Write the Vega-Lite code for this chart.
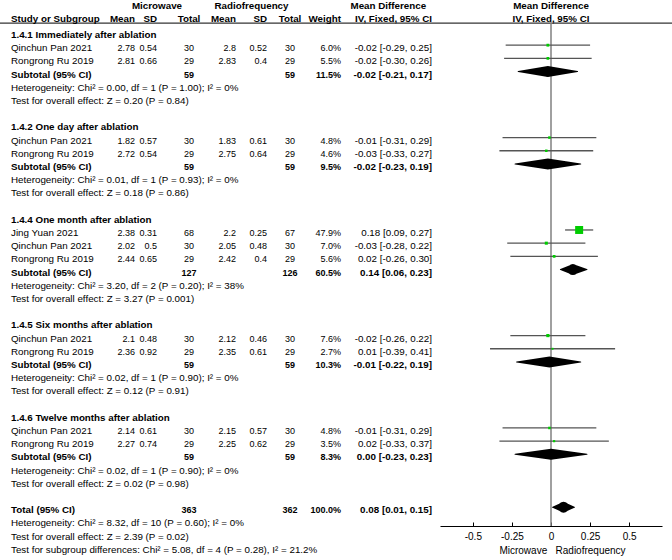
{
  "$schema": "https://vega.github.io/schema/vega-lite/v6.json",
  "width": 672,
  "height": 526,
  "autosize": {"type": "none"},
  "padding": {"left": 0, "top": 0, "right": 0, "bottom": 34},
  "background": "white",
  "config": {
    "view": {"stroke": null},
    "font": "Liberation Sans",
    "text": {"font": "Liberation Sans", "fontSize": 9.8, "color": "#000000", "baseline": "middle"}
  },
  "data": {
    "values": [
      {"row": -2, "kind": "header", "grpA": "Microwave", "grpB": "Radiofrequency", "grpC": "Mean Difference", "plotHead": "Mean Difference"},
      {"row": -1, "kind": "header", "label": "Study or Subgroup", "m1": "Mean", "sd1": "SD", "n1": "Total", "m2": "Mean", "sd2": "SD", "n2": "Total", "w": "Weight", "ci": "IV, Fixed, 95% CI", "plotHead": "IV, Fixed, 95% CI"},
      {"row": 0, "kind": "section", "label": "1.4.1 Immediately after ablation"},
      {"row": 1, "kind": "study", "label": "Qinchun Pan 2021", "m1": 2.78, "sd1": 0.54, "n1": 30, "m2": 2.8, "sd2": 0.52, "n2": 30, "w": "6.0%", "ci": "-0.02 [-0.29, 0.25]", "md": -0.02, "lo": -0.29, "hi": 0.25, "weight": 6.0},
      {"row": 2, "kind": "study", "label": "Rongrong Ru 2019", "m1": 2.81, "sd1": 0.66, "n1": 29, "m2": 2.83, "sd2": 0.4, "n2": 29, "w": "5.5%", "ci": "-0.02 [-0.30, 0.26]", "md": -0.02, "lo": -0.30, "hi": 0.26, "weight": 5.5},
      {"row": 3, "kind": "subtotal", "label": "Subtotal (95% CI)", "n1": 59, "n2": 59, "w": "11.5%", "ci": "-0.02 [-0.21, 0.17]", "md": -0.02, "lo": -0.21, "hi": 0.17},
      {"row": 4, "kind": "note", "label": "Heterogeneity: Chi² = 0.00, df = 1 (P = 1.00); I² = 0%"},
      {"row": 5, "kind": "note", "label": "Test for overall effect: Z = 0.20 (P = 0.84)"},
      {"row": 7, "kind": "section", "label": "1.4.2 One day after ablation"},
      {"row": 8, "kind": "study", "label": "Qinchun Pan 2021", "m1": 1.82, "sd1": 0.57, "n1": 30, "m2": 1.83, "sd2": 0.61, "n2": 30, "w": "4.8%", "ci": "-0.01 [-0.31, 0.29]", "md": -0.01, "lo": -0.31, "hi": 0.29, "weight": 4.8},
      {"row": 9, "kind": "study", "label": "Rongrong Ru 2019", "m1": 2.72, "sd1": 0.54, "n1": 29, "m2": 2.75, "sd2": 0.64, "n2": 29, "w": "4.6%", "ci": "-0.03 [-0.33, 0.27]", "md": -0.03, "lo": -0.33, "hi": 0.27, "weight": 4.6},
      {"row": 10, "kind": "subtotal", "label": "Subtotal (95% CI)", "n1": 59, "n2": 59, "w": "9.5%", "ci": "-0.02 [-0.23, 0.19]", "md": -0.02, "lo": -0.23, "hi": 0.19},
      {"row": 11, "kind": "note", "label": "Heterogeneity: Chi² = 0.01, df = 1 (P = 0.93); I² = 0%"},
      {"row": 12, "kind": "note", "label": "Test for overall effect: Z = 0.18 (P = 0.86)"},
      {"row": 14, "kind": "section", "label": "1.4.4 One month after ablation"},
      {"row": 15, "kind": "study", "label": "Jing Yuan 2021", "m1": 2.38, "sd1": 0.31, "n1": 68, "m2": 2.2, "sd2": 0.25, "n2": 67, "w": "47.9%", "ci": "0.18 [0.09, 0.27]", "md": 0.18, "lo": 0.09, "hi": 0.27, "weight": 47.9},
      {"row": 16, "kind": "study", "label": "Qinchun Pan 2021", "m1": 2.02, "sd1": 0.5, "n1": 30, "m2": 2.05, "sd2": 0.48, "n2": 30, "w": "7.0%", "ci": "-0.03 [-0.28, 0.22]", "md": -0.03, "lo": -0.28, "hi": 0.22, "weight": 7.0},
      {"row": 17, "kind": "study", "label": "Rongrong Ru 2019", "m1": 2.44, "sd1": 0.65, "n1": 29, "m2": 2.42, "sd2": 0.4, "n2": 29, "w": "5.6%", "ci": "0.02 [-0.26, 0.30]", "md": 0.02, "lo": -0.26, "hi": 0.30, "weight": 5.6},
      {"row": 18, "kind": "subtotal", "label": "Subtotal (95% CI)", "n1": 127, "n2": 126, "w": "60.5%", "ci": "0.14 [0.06, 0.23]", "md": 0.14, "lo": 0.06, "hi": 0.23},
      {"row": 19, "kind": "note", "label": "Heterogeneity: Chi² = 3.20, df = 2 (P = 0.20); I² = 38%"},
      {"row": 20, "kind": "note", "label": "Test for overall effect: Z = 3.27 (P = 0.001)"},
      {"row": 22, "kind": "section", "label": "1.4.5 Six months after ablation"},
      {"row": 23, "kind": "study", "label": "Qinchun Pan 2021", "m1": 2.1, "sd1": 0.48, "n1": 30, "m2": 2.12, "sd2": 0.46, "n2": 30, "w": "7.6%", "ci": "-0.02 [-0.26, 0.22]", "md": -0.02, "lo": -0.26, "hi": 0.22, "weight": 7.6},
      {"row": 24, "kind": "study", "label": "Rongrong Ru 2019", "m1": 2.36, "sd1": 0.92, "n1": 29, "m2": 2.35, "sd2": 0.61, "n2": 29, "w": "2.7%", "ci": "0.01 [-0.39, 0.41]", "md": 0.01, "lo": -0.39, "hi": 0.41, "weight": 2.7},
      {"row": 25, "kind": "subtotal", "label": "Subtotal (95% CI)", "n1": 59, "n2": 59, "w": "10.3%", "ci": "-0.01 [-0.22, 0.19]", "md": -0.01, "lo": -0.22, "hi": 0.19},
      {"row": 26, "kind": "note", "label": "Heterogeneity: Chi² = 0.02, df = 1 (P = 0.90); I² = 0%"},
      {"row": 27, "kind": "note", "label": "Test for overall effect: Z = 0.12 (P = 0.91)"},
      {"row": 29, "kind": "section", "label": "1.4.6 Twelve months after ablation"},
      {"row": 30, "kind": "study", "label": "Qinchun Pan 2021", "m1": 2.14, "sd1": 0.61, "n1": 30, "m2": 2.15, "sd2": 0.57, "n2": 30, "w": "4.8%", "ci": "-0.01 [-0.31, 0.29]", "md": -0.01, "lo": -0.31, "hi": 0.29, "weight": 4.8},
      {"row": 31, "kind": "study", "label": "Rongrong Ru 2019", "m1": 2.27, "sd1": 0.74, "n1": 29, "m2": 2.25, "sd2": 0.62, "n2": 29, "w": "3.5%", "ci": "0.02 [-0.33, 0.37]", "md": 0.02, "lo": -0.33, "hi": 0.37, "weight": 3.5},
      {"row": 32, "kind": "subtotal", "label": "Subtotal (95% CI)", "n1": 59, "n2": 59, "w": "8.3%", "ci": "0.00 [-0.23, 0.23]", "md": 0.0, "lo": -0.23, "hi": 0.23},
      {"row": 33, "kind": "note", "label": "Heterogeneity: Chi² = 0.02, df = 1 (P = 0.90); I² = 0%"},
      {"row": 34, "kind": "note", "label": "Test for overall effect: Z = 0.02 (P = 0.98)"},
      {"row": 36, "kind": "total", "label": "Total (95% CI)", "n1": 363, "n2": 362, "w": "100.0%", "ci": "0.08 [0.01, 0.15]", "md": 0.08, "lo": 0.01, "hi": 0.15},
      {"row": 37, "kind": "note", "label": "Heterogeneity: Chi² = 8.32, df = 10 (P = 0.60); I² = 0%"},
      {"row": 38, "kind": "note", "label": "Test for overall effect: Z = 2.39 (P = 0.02)"},
      {"row": 39, "kind": "note", "label": "Test for subgroup differences: Chi² = 5.08, df = 4 (P = 0.28), I² = 21.2%"}
    ]
  },
  "encoding": {
    "y": {"field": "row", "type": "quantitative", "scale": {"domain": [-2.65, 37.2], "reverse": true, "nice": false, "zero": false}, "axis": null}
  },
  "layer": [
    {
      "layer": [
        {"transform": [{"filter": "isValid(datum.label)"}], "mark": {"type": "text", "align": "left", "fontWeight": {"expr": "datum.kind === 'study' || datum.kind === 'note' ? 'normal' : 'bold'"}, "dy": {"expr": "datum.kind === 'header' ? -2.5 : 0"}},
         "encoding": {"x": {"datum": 0, "type": "quantitative", "scale": {"type": "linear", "domain": [0, 1, 2, 3, 4, 5, 6, 7, 8], "range": [11, 135, 157, 189, 236, 267, 290, 341, 432], "nice": false, "zero": false}, "axis": null}, "text": {"field": "label", "type": "nominal"}}},
        {"transform": [{"filter": "isValid(datum.m1)"}], "mark": {"type": "text", "align": "right", "fontSize": {"expr": "datum.kind === 'header' ? 9.8 : 9"}, "fontWeight": {"expr": "datum.kind === 'study' || datum.kind === 'note' ? 'normal' : 'bold'"}, "dy": {"expr": "datum.kind === 'header' ? -2.5 : 0"}},
         "encoding": {"x": {"datum": 1, "type": "quantitative", "scale": {"type": "linear", "domain": [0, 1, 2, 3, 4, 5, 6, 7, 8], "range": [11, 135, 157, 189, 236, 267, 290, 341, 432], "nice": false, "zero": false}, "axis": null}, "text": {"field": "m1", "type": "nominal"}}},
        {"transform": [{"filter": "isValid(datum.sd1)"}], "mark": {"type": "text", "align": "right", "fontSize": {"expr": "datum.kind === 'header' ? 9.8 : 9"}, "fontWeight": {"expr": "datum.kind === 'study' || datum.kind === 'note' ? 'normal' : 'bold'"}, "dy": {"expr": "datum.kind === 'header' ? -2.5 : 0"}},
         "encoding": {"x": {"datum": 2, "type": "quantitative", "scale": {"type": "linear", "domain": [0, 1, 2, 3, 4, 5, 6, 7, 8], "range": [11, 135, 157, 189, 236, 267, 290, 341, 432], "nice": false, "zero": false}, "axis": null}, "text": {"field": "sd1", "type": "nominal"}}},
        {"transform": [{"filter": "isValid(datum.n1)"}], "mark": {"type": "text", "align": "center", "fontSize": {"expr": "datum.kind === 'header' ? 9.8 : 9"}, "fontWeight": {"expr": "datum.kind === 'study' || datum.kind === 'note' ? 'normal' : 'bold'"}, "dy": {"expr": "datum.kind === 'header' ? -2.5 : 0"}},
         "encoding": {"x": {"datum": 3, "type": "quantitative", "scale": {"type": "linear", "domain": [0, 1, 2, 3, 4, 5, 6, 7, 8], "range": [11, 135, 157, 189, 236, 267, 290, 341, 432], "nice": false, "zero": false}, "axis": null}, "text": {"field": "n1", "type": "nominal"}}},
        {"transform": [{"filter": "isValid(datum.m2)"}], "mark": {"type": "text", "align": "right", "fontSize": {"expr": "datum.kind === 'header' ? 9.8 : 9"}, "fontWeight": {"expr": "datum.kind === 'study' || datum.kind === 'note' ? 'normal' : 'bold'"}, "dy": {"expr": "datum.kind === 'header' ? -2.5 : 0"}},
         "encoding": {"x": {"datum": 4, "type": "quantitative", "scale": {"type": "linear", "domain": [0, 1, 2, 3, 4, 5, 6, 7, 8], "range": [11, 135, 157, 189, 236, 267, 290, 341, 432], "nice": false, "zero": false}, "axis": null}, "text": {"field": "m2", "type": "nominal"}}},
        {"transform": [{"filter": "isValid(datum.sd2)"}], "mark": {"type": "text", "align": "right", "fontSize": {"expr": "datum.kind === 'header' ? 9.8 : 9"}, "fontWeight": {"expr": "datum.kind === 'study' || datum.kind === 'note' ? 'normal' : 'bold'"}, "dy": {"expr": "datum.kind === 'header' ? -2.5 : 0"}},
         "encoding": {"x": {"datum": 5, "type": "quantitative", "scale": {"type": "linear", "domain": [0, 1, 2, 3, 4, 5, 6, 7, 8], "range": [11, 135, 157, 189, 236, 267, 290, 341, 432], "nice": false, "zero": false}, "axis": null}, "text": {"field": "sd2", "type": "nominal"}}},
        {"transform": [{"filter": "isValid(datum.n2)"}], "mark": {"type": "text", "align": "center", "fontSize": {"expr": "datum.kind === 'header' ? 9.8 : 9"}, "fontWeight": {"expr": "datum.kind === 'study' || datum.kind === 'note' ? 'normal' : 'bold'"}, "dy": {"expr": "datum.kind === 'header' ? -2.5 : 0"}},
         "encoding": {"x": {"datum": 6, "type": "quantitative", "scale": {"type": "linear", "domain": [0, 1, 2, 3, 4, 5, 6, 7, 8], "range": [11, 135, 157, 189, 236, 267, 290, 341, 432], "nice": false, "zero": false}, "axis": null}, "text": {"field": "n2", "type": "nominal"}}},
        {"transform": [{"filter": "isValid(datum.w)"}], "mark": {"type": "text", "align": "right", "fontSize": {"expr": "datum.kind === 'header' ? 9.8 : 9"}, "fontWeight": {"expr": "datum.kind === 'study' || datum.kind === 'note' ? 'normal' : 'bold'"}, "dy": {"expr": "datum.kind === 'header' ? -2.5 : 0"}},
         "encoding": {"x": {"datum": 7, "type": "quantitative", "scale": {"type": "linear", "domain": [0, 1, 2, 3, 4, 5, 6, 7, 8], "range": [11, 135, 157, 189, 236, 267, 290, 341, 432], "nice": false, "zero": false}, "axis": null}, "text": {"field": "w", "type": "nominal"}}},
        {"transform": [{"filter": "isValid(datum.ci)"}], "mark": {"type": "text", "align": "right", "fontWeight": {"expr": "datum.kind === 'study' || datum.kind === 'note' ? 'normal' : 'bold'"}, "dy": {"expr": "datum.kind === 'header' ? -2.5 : 0"}},
         "encoding": {"x": {"datum": 8, "type": "quantitative", "scale": {"type": "linear", "domain": [0, 1, 2, 3, 4, 5, 6, 7, 8], "range": [11, 135, 157, 189, 236, 267, 290, 341, 432], "nice": false, "zero": false}, "axis": null}, "text": {"field": "ci", "type": "nominal"}}},
        {"transform": [{"filter": "isValid(datum.grpA)"}], "mark": {"type": "text", "align": "center", "fontWeight": "bold", "dy": -2.5},
         "encoding": {"x": {"datum": 2, "type": "quantitative", "scale": {"type": "linear", "domain": [0, 1, 2, 3, 4, 5, 6, 7, 8], "range": [11, 135, 157, 189, 236, 267, 290, 341, 432], "nice": false, "zero": false}, "axis": null}, "text": {"field": "grpA", "type": "nominal"}}},
        {"transform": [{"filter": "isValid(datum.grpB)"}], "mark": {"type": "text", "align": "center", "fontWeight": "bold", "dy": -2.5},
         "encoding": {"x": {"datum": 4.5, "type": "quantitative", "scale": {"type": "linear", "domain": [0, 1, 2, 3, 4, 5, 6, 7, 8], "range": [11, 135, 157, 189, 236, 267, 290, 341, 432], "nice": false, "zero": false}, "axis": null}, "text": {"field": "grpB", "type": "nominal"}}},
        {"transform": [{"filter": "isValid(datum.grpC)"}], "mark": {"type": "text", "align": "center", "fontWeight": "bold", "dy": -2.5},
         "encoding": {"x": {"datum": 7.52, "type": "quantitative", "scale": {"type": "linear", "domain": [0, 1, 2, 3, 4, 5, 6, 7, 8], "range": [11, 135, 157, 189, 236, 267, 290, 341, 432], "nice": false, "zero": false}, "axis": null}, "text": {"field": "grpC", "type": "nominal"}}}
      ]
    },
    {
      "transform": [{"filter": "datum.row === -1"}],
      "mark": {"type": "rule", "color": "#000000", "strokeWidth": 1},
      "encoding": {"y": {"datum": -0.9, "type": "quantitative", "axis": null}}
    },
    {
      "layer": [
        {"transform": [{"filter": "datum.row === -1"}],
         "mark": {"type": "rule", "color": "#808080", "strokeWidth": 1.5},
         "encoding": {"x": {"datum": 0, "type": "quantitative", "scale": {"domain": [-0.71, 0.71], "range": [440, 662], "nice": false, "zero": false}}, "y": {"datum": -0.9, "type": "quantitative", "axis": null}, "y2": {"datum": 37.2}}},
        {"transform": [{"filter": "datum.kind === 'study'"}],
         "mark": {"type": "rule", "color": "#555555", "strokeWidth": 1.3, "yOffset": -3},
         "encoding": {
           "x": {"field": "lo", "type": "quantitative", "scale": {"domain": [-0.71, 0.71], "range": [440, 662], "nice": false, "zero": false},
                 "axis": {"values": [-0.5, -0.25, 0, 0.25, 0.5], "labelExpr": "datum.value", "title": "Microwave\u00a0\u00a0\u00a0Radiofrequency", "titleX": 562, "titleFontWeight": "normal", "titleFontSize": 10, "titleFont": "Liberation Sans", "titleColor": "#000000", "titlePadding": 4, "labelFontSize": 10, "labelFont": "Liberation Sans", "labelColor": "#000000", "domainColor": "#000000", "tickColor": "#000000", "tickSize": -4, "labelPadding": 9, "grid": false, "labelFlush": false, "labelOverlap": false}},
           "x2": {"field": "hi"}
         }},
        {"transform": [{"filter": "datum.kind === 'study'"}],
         "mark": {"type": "point", "shape": "square", "filled": true, "color": "#00cc00", "opacity": 1, "strokeWidth": 0, "yOffset": -3},
         "encoding": {
           "x": {"field": "md", "type": "quantitative", "scale": {"domain": [-0.71, 0.71], "range": [440, 662], "nice": false, "zero": false}},
           "size": {"field": "weight", "type": "quantitative", "scale": {"domain": [0, 47.9], "range": [0, 64]}, "legend": null}
         }},
        {"transform": [{"filter": "datum.kind === 'subtotal' || datum.kind === 'total'"}, {"fold": ["lo", "md", "hi"], "as": ["pt", "xv"]}],
         "mark": {"type": "trail", "color": "#000000", "yOffset": -3},
         "encoding": {
           "x": {"field": "xv", "type": "quantitative", "scale": {"domain": [-0.71, 0.71], "range": [440, 662], "nice": false, "zero": false}},
           "detail": {"field": "row", "type": "nominal"},
           "size": {"condition": {"test": "datum.pt === 'md'", "value": 11}, "value": 0}
         }},
        {"transform": [{"filter": "isValid(datum.plotHead)"}],
         "mark": {"type": "text", "align": "center", "fontWeight": "bold", "dy": -2.5},
         "encoding": {
           "x": {"datum": 0, "type": "quantitative", "scale": {"domain": [-0.71, 0.71], "range": [440, 662], "nice": false, "zero": false}},
           "text": {"field": "plotHead", "type": "nominal"}
         }}
      ]
    }
  ],
  "resolve": {"scale": {"x": "independent"}, "axis": {"x": "independent"}}
}
